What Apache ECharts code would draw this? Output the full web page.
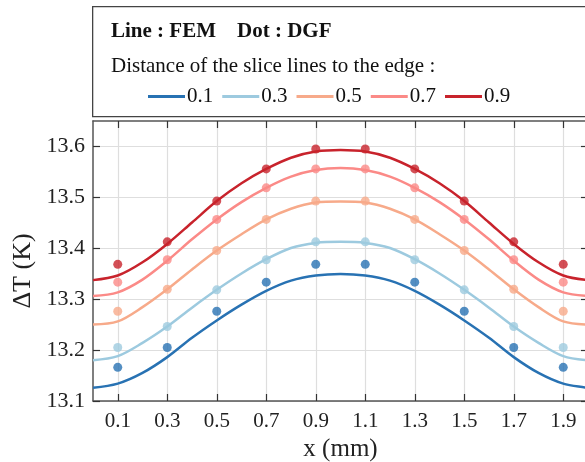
<!DOCTYPE html>
<html>
<head>
<meta charset="utf-8">
<script src="https://cdn.jsdelivr.net/npm/echarts@6/dist/echarts.min.js"></script>
<style>html,body{margin:0;padding:0;background:#fff}#c{width:585px;height:462px}</style>
</head>
<body>
<div id="c"></div>
<script>
const names = ['0.1', '0.3', '0.5', '0.7', '0.9'];
const xLine = [0, 0.1, 0.2, 0.3, 0.4, 0.5, 0.6, 0.7, 0.8, 0.9, 1.0, 1.1, 1.2, 1.3, 1.4, 1.5, 1.6, 1.7, 1.8, 1.9, 2.0];
const fem01 = [13.126, 13.134, 13.155, 13.186, 13.224, 13.258, 13.289, 13.316, 13.336, 13.346, 13.349, 13.346, 13.336, 13.316, 13.289, 13.258, 13.224, 13.186, 13.155, 13.134, 13.126];
const fem03 = [13.180, 13.188, 13.214, 13.246, 13.283, 13.318, 13.350, 13.378, 13.400, 13.410, 13.412, 13.410, 13.400, 13.378, 13.350, 13.318, 13.283, 13.246, 13.214, 13.188, 13.180];
const fem05 = [13.250, 13.256, 13.284, 13.319, 13.358, 13.395, 13.427, 13.456, 13.477, 13.489, 13.491, 13.489, 13.477, 13.456, 13.427, 13.395, 13.358, 13.319, 13.284, 13.256, 13.250];
const fem07 = [13.306, 13.313, 13.338, 13.375, 13.417, 13.456, 13.490, 13.518, 13.540, 13.553, 13.557, 13.553, 13.540, 13.518, 13.490, 13.456, 13.417, 13.375, 13.338, 13.313, 13.306];
const fem09 = [13.337, 13.346, 13.372, 13.408, 13.450, 13.492, 13.527, 13.555, 13.577, 13.589, 13.592, 13.589, 13.577, 13.555, 13.527, 13.492, 13.450, 13.408, 13.372, 13.346, 13.337];
const xDot = [0.1, 0.3, 0.5, 0.7, 0.9, 1.1, 1.3, 1.5, 1.7, 1.9];
const dgf01 = [13.166, 13.205, 13.276, 13.333, 13.368, 13.368, 13.333, 13.276, 13.205, 13.166];
const dgf03 = [13.205, 13.246, 13.318, 13.377, 13.412, 13.412, 13.377, 13.318, 13.246, 13.205];
const dgf05 = [13.276, 13.319, 13.395, 13.456, 13.492, 13.492, 13.456, 13.395, 13.319, 13.276];
const dgf07 = [13.333, 13.377, 13.456, 13.518, 13.555, 13.555, 13.518, 13.456, 13.377, 13.333];
const dgf09 = [13.368, 13.412, 13.492, 13.555, 13.594, 13.594, 13.555, 13.492, 13.412, 13.368];
const xTicks = [0.1, 0.3, 0.5, 0.7, 0.9, 1.1, 1.3, 1.5, 1.7, 1.9];
const yTicks = [13.1, 13.2, 13.3, 13.4, 13.5, 13.6];

const colors = ['#2872b3', '#9dcadf', '#f7aa8a', '#fb8a87', '#c8232c'];
const femSets = [fem01, fem03, fem05, fem07, fem09];
const dgfSets = [dgf01, dgf03, dgf05, dgf07, dgf09];
const FONT = '"Liberation Serif", "Times New Roman", serif';
const axisCol = '#555';

const series = [];
femSets.forEach((arr, i) => {
  series.push({
    name: names[i], type: 'line', xAxisIndex: 0, yAxisIndex: 0,
    data: xLine.map((x, j) => [x, arr[j]]),
    smooth: 0.33, showSymbol: false, symbol: 'none',
    lineStyle: { color: colors[i], width: 2.5 }, itemStyle: { color: colors[i] },
    z: 3
  });
});
dgfSets.forEach((arr, i) => {
  series.push({
    name: 'DGF ' + names[i], type: 'scatter', xAxisIndex: 0, yAxisIndex: 0,
    data: xDot.map((x, j) => [x, arr[j]]),
    symbol: 'circle', symbolSize: 9,
    itemStyle: { color: colors[i] },
    z: 4
  });
});

const xBase = {
  type: 'value', min: 0, max: 2,
  axisLine: { show: true, onZero: false, lineStyle: { color: axisCol, width: 1.5 } },
  axisTick: { show: true, inside: true, length: 7, customValues: xTicks, lineStyle: { color: '#333', width: 1.2 } },
};
const yBase = {
  type: 'value', min: 13.1, max: 13.649,
  axisLine: { show: true, onZero: false, lineStyle: { color: axisCol, width: 1.5 } },
  axisTick: { show: true, inside: true, length: 7, customValues: yTicks, lineStyle: { color: '#333', width: 1.2 } },
};

const option = {
  animation: false,
  backgroundColor: '#fff',
  grid: { left: 93, top: 121, right: -3, bottom: 61, containLabel: false, outerBoundsMode: 'none' },
  legend: {
    data: names, left: 148, top: 86, padding: 0,
    icon: 'rect', itemWidth: 37, itemHeight: 3, itemGap: 9,
    textStyle: { fontFamily: FONT, fontSize: 21, color: '#111', padding: [0, 0, 0, -3] },
    selectedMode: false
  },
  xAxis: [
    Object.assign({}, xBase, {
      position: 'bottom',
      name: 'x (mm)', nameLocation: 'middle', nameGap: 35,
      nameTextStyle: { fontFamily: FONT, fontSize: 25, color: '#222' },
      axisLabel: { show: true, customValues: xTicks, margin: 10, fontFamily: FONT, fontSize: 21, color: '#222', formatter: v => v.toFixed(1) },
      splitLine: { show: true, lineStyle: { color: '#dedede', width: 1.2 } }
    }),
    Object.assign({}, xBase, {
      position: 'top', axisLabel: { show: false }, splitLine: { show: false }
    })
  ],
  yAxis: [
    Object.assign({}, yBase, {
      position: 'left',
      axisLabel: { show: true, customValues: yTicks, margin: 8, fontFamily: FONT, fontSize: 22, color: '#222', formatter: v => v.toFixed(1) },
      splitLine: { show: true, lineStyle: { color: '#dedede', width: 1.2 } }
    }),
    Object.assign({}, yBase, {
      position: 'right', axisLabel: { show: false }, splitLine: { show: false }
    })
  ],
  graphic: [
    { type: 'rect', left: 92, top: 6, shape: { x: 0, y: 0, width: 520, height: 110 },
      style: { fill: '#fff', stroke: '#444', lineWidth: 1.3 }, z: -1 },
    { type: 'text', left: 111, top: 21,
      style: { text: 'Line : FEM    Dot : DGF', fontFamily: FONT, fontWeight: 'bold', fontSize: 21, fill: '#111' } },
    { type: 'text', left: 111, top: 56,
      style: { text: 'Distance of the slice lines to the edge :', fontFamily: FONT, fontSize: 21, fill: '#111' } },
    { type: 'text', x: 23, y: 271, rotation: Math.PI / 2,
      style: { text: 'ΔT (K)', fontFamily: FONT, fontSize: 26, fill: '#222', align: 'center', verticalAlign: 'middle' } }
  ],
  series: series
};
const chart = echarts.init(document.getElementById('c'), null, { renderer: 'canvas' });
chart.setOption(option);
</script>
</body>
</html>
